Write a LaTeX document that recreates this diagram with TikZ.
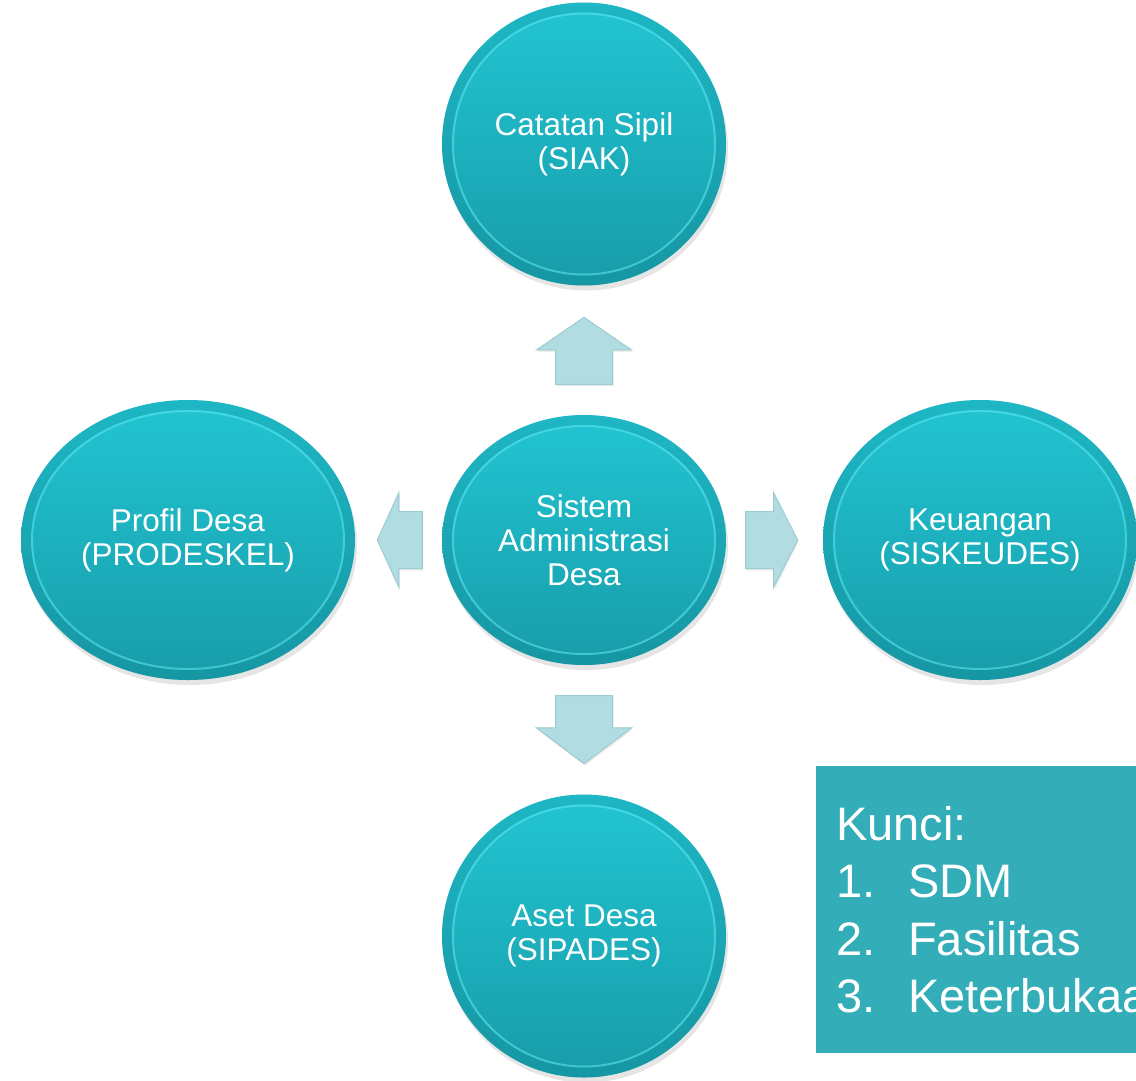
\documentclass[tikz,border=0pt]{standalone}
\usepackage{fontspec}
\setmainfont{Liberation Sans}
\usetikzlibrary{positioning,calc,shapes.geometric,shapes.arrows,shadows}

\definecolor{disctop}{HTML}{22C5D3}
\definecolor{discbot}{HTML}{189CA9}
\definecolor{rimdark}{HTML}{10808C}
\definecolor{rimlight}{HTML}{5FE8F2}
\definecolor{arrowfill}{HTML}{B1DCE2}
\definecolor{arrowline}{HTML}{9CCBD3}
\definecolor{keyfill}{HTML}{33ADB8}

\begin{document}
\begin{tikzpicture}[x=1pt, y=-1pt, node distance=396pt,
	font=\fontsize{31.5}{34}\selectfont,
	disc/.style={ellipse, top color=disctop, bottom color=discbot, text=white,
		align=center, inner sep=0pt, minimum width=284pt, minimum height=283pt,
		drop shadow={shadow xshift=2pt, shadow yshift=-5pt, opacity=.2},
		path picture={
			\draw[rimdark, line width=10pt, opacity=.2]
				let \p1=(path picture bounding box.north east),
				    \p2=(path picture bounding box.center) in
				(\p2) ellipse [x radius={\x1-\x2-5pt}, y radius={\y1-\y2-5pt}];
			\draw[rimlight, line width=2pt, opacity=.55]
				let \p1=(path picture bounding box.north east),
				    \p2=(path picture bounding box.center) in
				(\p2) ellipse [x radius={\x1-\x2-11pt}, y radius={\y1-\y2-11pt}];
		}},
	blockarrow/.style={single arrow, fill=arrowfill, draw=arrowline, line width=1pt,
		inner xsep=0pt, inner ysep=28pt, minimum width=94pt, single arrow head extend=19pt,
		drop shadow={shadow xshift=1pt, shadow yshift=-2pt, opacity=.15}},
	keybox/.style={rectangle, fill=keyfill, text=white, align=left,
		text width=380pt, inner xsep=20pt, minimum width=420pt, minimum height=287pt,
		font=\fontsize{47}{57.5}\selectfont}]
	\useasboundingbox [fill=white] (0,0) rectangle (1136,1080);

	% Nodes {centre, SIAK, PRODESKEL, SISKEUDES, SIPADES}
	\node [disc, minimum height=250pt] (sad) at (584,540) {Sistem\\Administrasi\\Desa};
	\node [disc] 	(siak) 	[above of=sad] 	{Catatan Sipil\\(SIAK)};
	\node [disc, minimum width=334pt, minimum height=280pt]
					(prodeskel) [left of=sad] 	{Profil Desa\\(PRODESKEL)};
	\node [disc, minimum width=314pt, minimum height=280pt]
					(siskeudes) [right of=sad] 	{Keuangan\\(SISKEUDES)};
	\node [disc] 	(sipades) [below of=sad] 	{Aset Desa\\(SIPADES)};

	% Block arrows out of the centre
	\node [blockarrow, rotate=90, minimum height=67pt, single arrow tip angle=111,
		anchor=tail] (toup) at ([yshift=30pt]sad.north) {};
	\node [blockarrow, rotate=-90, minimum height=68pt, single arrow tip angle=106,
		anchor=tail] (todown) at ([yshift=-30pt]sad.south) {};
	\node [blockarrow, rotate=180, minimum height=45pt, single arrow tip angle=131,
		minimum width=92pt, anchor=tail] (toleft) at ([xshift=-19pt]sad.west) {};
	\node [blockarrow, minimum height=52pt, single arrow tip angle=126,
		anchor=tail] (toright) at ([xshift=19pt]sad.east) {};

	% Key box
	\node [keybox, anchor=north west] (kunci) at (816,766)
		{Kunci:\\\makebox[72pt][l]{1.}SDM\\\makebox[72pt][l]{2.}Fasilitas\\\makebox[72pt][l]{3.}Keterbukaan};
\end{tikzpicture}
\end{document}
